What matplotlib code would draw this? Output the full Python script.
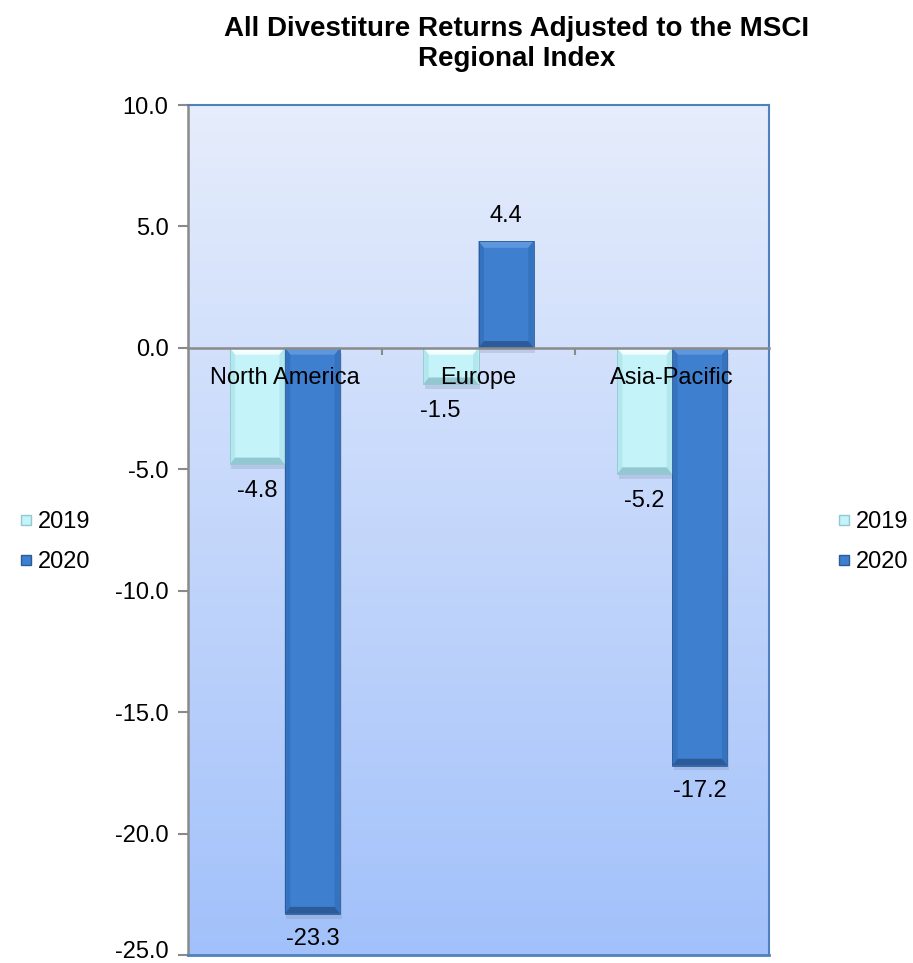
import numpy as np
import matplotlib
matplotlib.use("Agg")
import matplotlib.pyplot as plt
import matplotlib.transforms as mtransforms
from matplotlib.patches import Rectangle, Polygon
from matplotlib.colors import LinearSegmentedColormap
from matplotlib.lines import Line2D

plt.rcParams['font.family'] = ['Liberation Sans', 'DejaVu Sans']

regions = ["North America", "Europe", "Asia-Pacific"]
series_names = ["2019", "2020"]
returns_2019 = [-4.8, -1.5, -5.2]
returns_2020 = [-23.3, 4.4, -17.2]
y_ticks = [10.0, 5.0, 0.0, -5.0, -10.0, -15.0, -20.0, -25.0]
title = "All Divestiture Returns Adjusted to the MSCI\nRegional Index"

W, H = 913, 963
fig = plt.figure(figsize=(W / 100, H / 100), dpi=100)
ax = fig.add_axes([188 / W, 1 - 955 / H, (769 - 188) / W, (955 - 105) / H])
ax.set_xlim(-0.5, 2.5)
ax.set_ylim(-25, 10)

# background gradient of the plot area (light at top, deeper blue at bottom)
bg = LinearSegmentedColormap.from_list("bg", ["#e6edfc", "#a2c1fa"])
grad = np.linspace(0, 1, 256).reshape(-1, 1)
ax.imshow(grad, cmap=bg, aspect="auto", extent=(-0.5, 2.5, -25, 10),
          zorder=0, origin="upper")
ax.set_xlim(-0.5, 2.5)
ax.set_ylim(-25, 10)

bar_w = 0.285
x = np.arange(len(regions))

styles = {
    "2019": dict(face="#c4f3f9", light="#f2feff", dark="#93c8d2", mid="#b3e7ee"),
    "2020": dict(face="#3e7fcf", light="#5f97dc", dark="#2b5b98", mid="#3573c0"),
}

bev_x = 0.028   # bevel width in data units (x)
bev_y = 0.28    # bevel width in data units (y)


def bevel_bar(ax, xc, val, st):
    x0, x1 = xc - bar_w / 2, xc + bar_w / 2
    lo, hi = min(0.0, val), max(0.0, val)
    # soft drop shadow
    ax.add_patch(Rectangle((x0 + 0.008, lo - 0.2), bar_w, hi - lo,
                           facecolor="#6f7f99", alpha=0.22, lw=0, zorder=2))
    ax.bar(xc, val, width=bar_w, color=st["face"], edgecolor="none",
           zorder=3)
    ix0, ix1, iy0, iy1 = x0 + bev_x, x1 - bev_x, lo + bev_y, hi - bev_y
    # bevel facets: top, left, right, bottom
    ax.add_patch(Polygon([(x0, hi), (x1, hi), (ix1, iy1), (ix0, iy1)],
                         closed=True, facecolor=st["light"], lw=0, zorder=4))
    ax.add_patch(Polygon([(x0, lo), (x0, hi), (ix0, iy1), (ix0, iy0)],
                         closed=True, facecolor=st["mid"], lw=0, zorder=4))
    ax.add_patch(Polygon([(x1, lo), (x1, hi), (ix1, iy1), (ix1, iy0)],
                         closed=True, facecolor=st["mid"], lw=0, zorder=4))
    ax.add_patch(Polygon([(x0, lo), (x1, lo), (ix1, iy0), (ix0, iy0)],
                         closed=True, facecolor=st["dark"], lw=0, zorder=4))
    ax.add_patch(Rectangle((x0, lo), bar_w, hi - lo, fill=False,
                           edgecolor=st["dark"], lw=0.6, zorder=5))


for xi, v in zip(x, returns_2019):
    bevel_bar(ax, xi - bar_w / 2, v, styles["2019"])
for xi, v in zip(x, returns_2020):
    bevel_bar(ax, xi + bar_w / 2, v, styles["2020"])

fs = 17
# value labels
offs_2019 = [0, -8, 0]
for xi, v, dx in zip(x, returns_2019, offs_2019):
    ax.annotate(f"{v:.1f}", (xi - bar_w / 2, v), xytext=(dx, -19),
                textcoords="offset points", ha="center", va="center",
                fontsize=fs, zorder=7)
for xi, v in zip(x, returns_2020):
    dy = 18 if v > 0 else -18
    ax.annotate(f"{v:.1f}", (xi + bar_w / 2, v), xytext=(0, dy),
                textcoords="offset points", ha="center", va="center",
                fontsize=fs, zorder=7)

# category labels just under the zero line
for xi, name in zip(x, regions):
    ax.annotate(name, (xi, 0), xytext=(0, -22), textcoords="offset points",
                ha="center", va="center", fontsize=fs, zorder=8)

# zero line acts as the category axis
ax.spines["bottom"].set_position(("data", 0))
ax.spines["bottom"].set_color("#8a8a8a")
ax.spines["bottom"].set_linewidth(1.8)
ax.spines["bottom"].set_zorder(6)
ax.set_xticks([0.5, 1.5])
ax.tick_params(axis="x", direction="out", length=5, width=1.5,
               color="#8a8a8a", labelbottom=False)

ax.spines["left"].set_color("#8a8a8a")
ax.spines["left"].set_linewidth(1.8)
ax.set_yticks(y_ticks)
ax.set_yticklabels([f"{t:.1f}" for t in y_ticks], fontsize=fs)
ax.tick_params(axis="y", direction="out", length=7, width=1.5,
               color="#8a8a8a", pad=7)
# nudge the lowest tick label up so it stays inside the canvas
low_label = ax.yaxis.get_major_ticks()[-1].label1
low_label.set_transform(low_label.get_transform() +
                        mtransforms.ScaledTranslation(0, 4 / 72,
                                                      fig.dpi_scale_trans))

ax.spines["top"].set_color("#4f81bd")
ax.spines["right"].set_color("#4f81bd")
ax.spines["top"].set_linewidth(1.5)
ax.spines["right"].set_linewidth(1.5)
# bottom border of the plot area
ax.plot([0, 1], [0, 0], transform=ax.transAxes, color="#4f81bd", lw=2.0,
        clip_on=False, zorder=6)

fig.text(517 / W, 1 - 44 / H, title, ha="center", va="center",
         fontsize=20, fontweight="bold", linespacing=1.15)

# legends on both sides
handles = [
    Line2D([], [], marker="s", linestyle="none", markersize=6.5,
           markerfacecolor=styles["2019"]["face"],
           markeredgecolor=styles["2019"]["dark"]),
    Line2D([], [], marker="s", linestyle="none", markersize=6.5,
           markerfacecolor=styles["2020"]["face"],
           markeredgecolor=styles["2020"]["dark"]),
]
for xpos in (19 / W, 837 / W):
    fig.legend(handles, series_names, loc="center left",
               bbox_to_anchor=(xpos, 1 - 542 / H), frameon=False,
               fontsize=fs, handlelength=0.6, handletextpad=0.2,
               labelspacing=0.75, borderpad=0, borderaxespad=0)

fig.savefig("out.png", dpi=100)
